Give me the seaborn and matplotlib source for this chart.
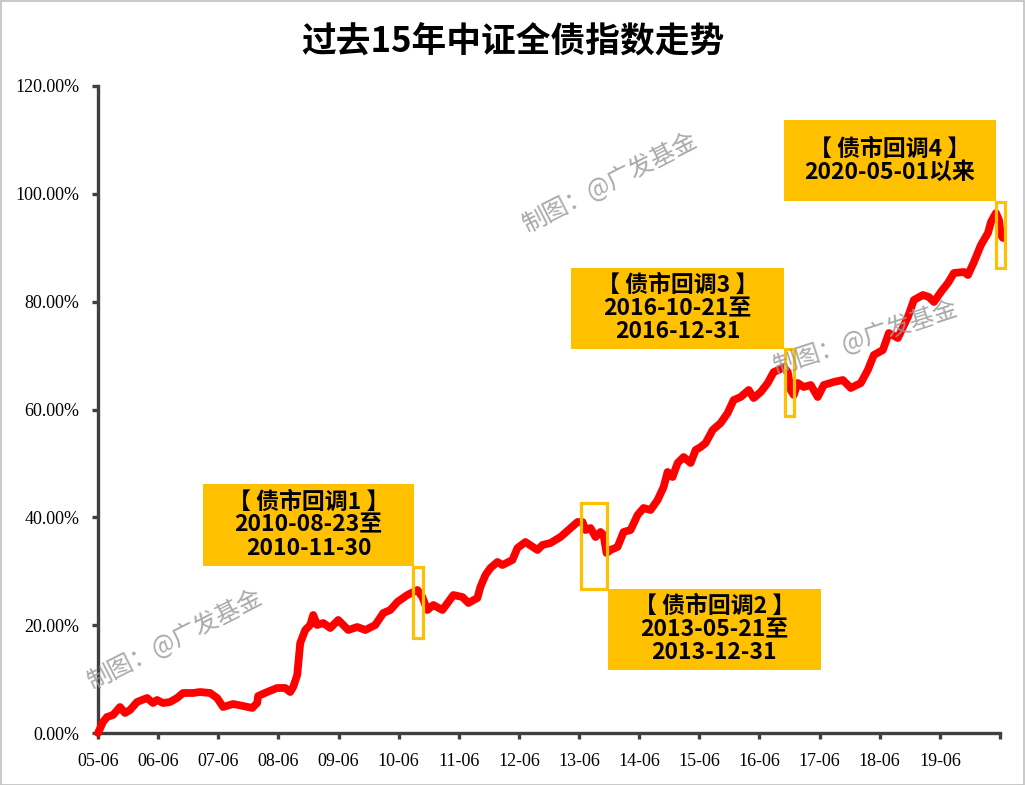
import matplotlib
matplotlib.use("Agg")
import matplotlib.pyplot as plt
import seaborn as sns
import pandas as pd
from matplotlib.patches import Rectangle
from matplotlib.ticker import FuncFormatter

# ---------------- data ----------------
title = "过去15年中证全债指数走势"
# years elapsed since 2005-06
years_since_start = [
    0.000, 0.083, 0.150, 0.250, 0.366, 0.449, 0.533, 0.649, 0.816, 0.916,
    0.982, 1.082, 1.199, 1.315, 1.415, 1.582, 1.698, 1.864, 1.981, 2.081,
    2.247, 2.414, 2.564, 2.647, 2.664, 2.813, 2.980, 3.113, 3.196, 3.246,
    3.313, 3.363, 3.446, 3.529, 3.579, 3.646, 3.746, 3.862, 3.995, 4.162,
    4.312, 4.445, 4.611, 4.745, 4.861, 4.978, 5.144, 5.311, 5.394, 5.477,
    5.577, 5.727, 5.910, 6.060, 6.160, 6.309, 6.359, 6.443, 6.526, 6.642,
    6.726, 6.892, 6.975, 7.108, 7.308, 7.391, 7.525, 7.691, 7.824, 7.974,
    8.057, 8.107, 8.190, 8.274, 8.357, 8.407, 8.457, 8.523, 8.640, 8.740,
    8.857, 8.973, 9.073, 9.189, 9.306, 9.406, 9.472, 9.555, 9.639, 9.739,
    9.855, 9.938, 10.022, 10.105, 10.222, 10.355, 10.471, 10.571, 10.688, 10.821,
    10.904, 11.021, 11.137, 11.237, 11.320, 11.403, 11.470, 11.520, 11.570, 11.636,
    11.736, 11.853, 11.969, 12.069, 12.236, 12.386, 12.519, 12.685, 12.802, 12.902,
    13.052, 13.152, 13.301, 13.468, 13.568, 13.718, 13.817, 13.901, 14.017, 14.134,
    14.234, 14.400, 14.467, 14.567, 14.683, 14.800, 14.850, 14.933, 14.983, 15.016,
    15.049,
]
cum_return_pct = [
    0.00, 2.04, 2.97, 3.34, 4.82, 3.71, 4.27, 5.75, 6.49, 5.56,
    6.12, 5.56, 5.75, 6.49, 7.42, 7.42, 7.60, 7.42, 6.49, 4.82,
    5.38, 5.01, 4.64, 5.56, 6.86, 7.60, 8.35, 8.35, 7.60, 8.53,
    10.76, 16.69, 19.10, 20.03, 21.89, 20.03, 20.40, 19.47, 20.96, 19.10,
    19.66, 19.10, 20.03, 22.26, 22.81, 24.30, 25.59, 26.52, 25.22, 22.81,
    23.74, 22.81, 25.59, 25.22, 24.11, 25.04, 27.08, 29.30, 30.60, 31.72,
    31.16, 32.09, 34.31, 35.42, 33.94, 34.87, 35.24, 36.35, 37.65, 39.13,
    39.13, 37.65, 38.02, 36.35, 37.28, 36.72, 33.38, 33.94, 34.50, 37.28,
    37.65, 40.43, 41.73, 41.36, 43.21, 45.63, 48.41, 47.48, 50.08, 51.19,
    50.08, 52.49, 53.04, 53.79, 56.20, 57.50, 59.35, 61.76, 62.32, 63.62,
    62.13, 63.25, 64.91, 66.95, 67.33, 67.88, 66.95, 63.62, 62.69, 64.91,
    64.17, 64.54, 62.32, 64.54, 65.10, 65.47, 63.99, 64.91, 67.33, 70.11,
    71.03, 74.19, 73.26, 77.16, 80.31, 81.24, 80.87, 79.94, 81.79, 83.46,
    85.32, 85.50, 84.94, 87.36, 90.51, 92.74, 94.78, 96.44, 95.15, 92.36,
    91.81,
]
x_tick_labels = ["05-06", "06-06", "07-06", "08-06", "09-06", "10-06", "11-06",
                 "12-06", "13-06", "14-06", "15-06", "16-06", "17-06", "18-06",
                 "19-06", ""]
y_ticks = [0, 20, 40, 60, 80, 100, 120]

# correction periods (years since 2005-06)
correction_starts = [5.24, 8.04, 11.42, 14.93]
correction_ends = [5.41, 8.47, 11.57, 15.08]
correction_labels = [
    "【 债市回调1 】\n2010-08-23至\n2010-11-30",
    "【 债市回调2 】\n2013-05-21至\n2013-12-31",
    "【 债市回调3 】\n2016-10-21至\n2016-12-31",
    "【 债市回调4 】\n2020-05-01以来",
]
watermark = "制图：@广发基金"

# ---------------- style ----------------
sns.set_theme(style="white")
plt.rcParams["font.family"] = ["Noto Sans CJK SC", "DejaVu Sans"]

W, H = 1025, 785
fig = plt.figure(figsize=(W / 100, H / 100), dpi=100)
fig.patch.set_facecolor("white")
ax = fig.add_axes([98 / W, 52 / H, 902 / W, 647 / H])

df = pd.DataFrame({"t": years_since_start, "v": cum_return_pct})
sns.lineplot(data=df, x="t", y="v", ax=ax, color="#FF0000", linewidth=5.6,
             solid_joinstyle="round", solid_capstyle="round", clip_on=False,
             zorder=3)

ax.set_xlim(0, 15)
ax.set_ylim(0, 120)
ax.set_xticks(range(16))
ax.set_xticklabels(x_tick_labels)
ax.set_yticks(y_ticks)
ax.yaxis.set_major_formatter(FuncFormatter(lambda v, p: f"{v:.2f}%"))
ax.set_xlabel("")
ax.set_ylabel("")

axis_col = "#404040"
for s in ["top", "right"]:
    ax.spines[s].set_visible(False)
for s in ["left", "bottom"]:
    ax.spines[s].set_color(axis_col)
    ax.spines[s].set_linewidth(2.4)
ax.tick_params(axis="both", which="major", direction="out", length=4.5,
               width=2.4, color=axis_col, bottom=True, left=True)
ax.tick_params(axis="y", pad=9)
ax.tick_params(axis="x", pad=10)
for lab in ax.get_xticklabels() + ax.get_yticklabels():
    lab.set_fontfamily("Liberation Serif")
    lab.set_fontsize(13)
    lab.set_color("black")
ax.grid(False)

gold = "#FFC000"
# highlight rectangles of correction periods
hl_y = [(17.6, 30.8), (26.7, 42.7), (58.8, 71.2), (86.2, 98.5)]
for s, e, (y0, y1) in zip(correction_starts, correction_ends, hl_y):
    ax.add_patch(Rectangle((s, y0), e - s, y1 - y0, fill=False,
                           edgecolor=gold, linewidth=2.3, zorder=4,
                           clip_on=False))

# annotation boxes (data coords: x0, x1, y0, y1)
boxes = [(1.748, 5.261, 30.97, 46.18),
         (8.474, 12.02, 11.68, 26.71),
         (7.874, 11.403, 71.22, 86.24),
         (11.403, 14.933, 98.67, 113.69)]
for (x0, x1, y0, y1), txt in zip(boxes, correction_labels):
    ax.add_patch(Rectangle((x0, y0), x1 - x0, y1 - y0, facecolor=gold,
                           edgecolor="none", zorder=5, clip_on=False))
    ax.text((x0 + x1) / 2, (y0 + y1) / 2, txt, ha="center", va="center",
            fontsize=16.5, fontweight="bold", color="black",
            linespacing=1.0, zorder=6,
            family=["Noto Sans CJK SC", "DejaVu Sans"])

# watermarks (figure pixel positions)
for (px, py, rot) in [(175, 640, 27), (610, 183, 27), (866, 338, 18)]:
    fig.text(px / W, 1 - py / H, watermark, ha="center", va="center",
             rotation=rot, fontsize=17.5, color="#9a9a9a", alpha=0.85,
             family=["Noto Sans CJK SC", "DejaVu Sans"], zorder=10)

fig.text(0.5, 1 - 42 / H, title, ha="center", va="center", fontsize=25,
         fontweight="heavy", color="black",
         family=["Noto Sans CJK SC", "DejaVu Sans"])

# outer border
fig.patches.append(Rectangle((0.5 / W, 0.5 / H), 1 - 1.5 / W, 1 - 1.5 / H,
                             transform=fig.transFigure, fill=False,
                             edgecolor="#BFBFBF", linewidth=1.2))

fig.savefig("out.png", dpi=100, facecolor="white")
